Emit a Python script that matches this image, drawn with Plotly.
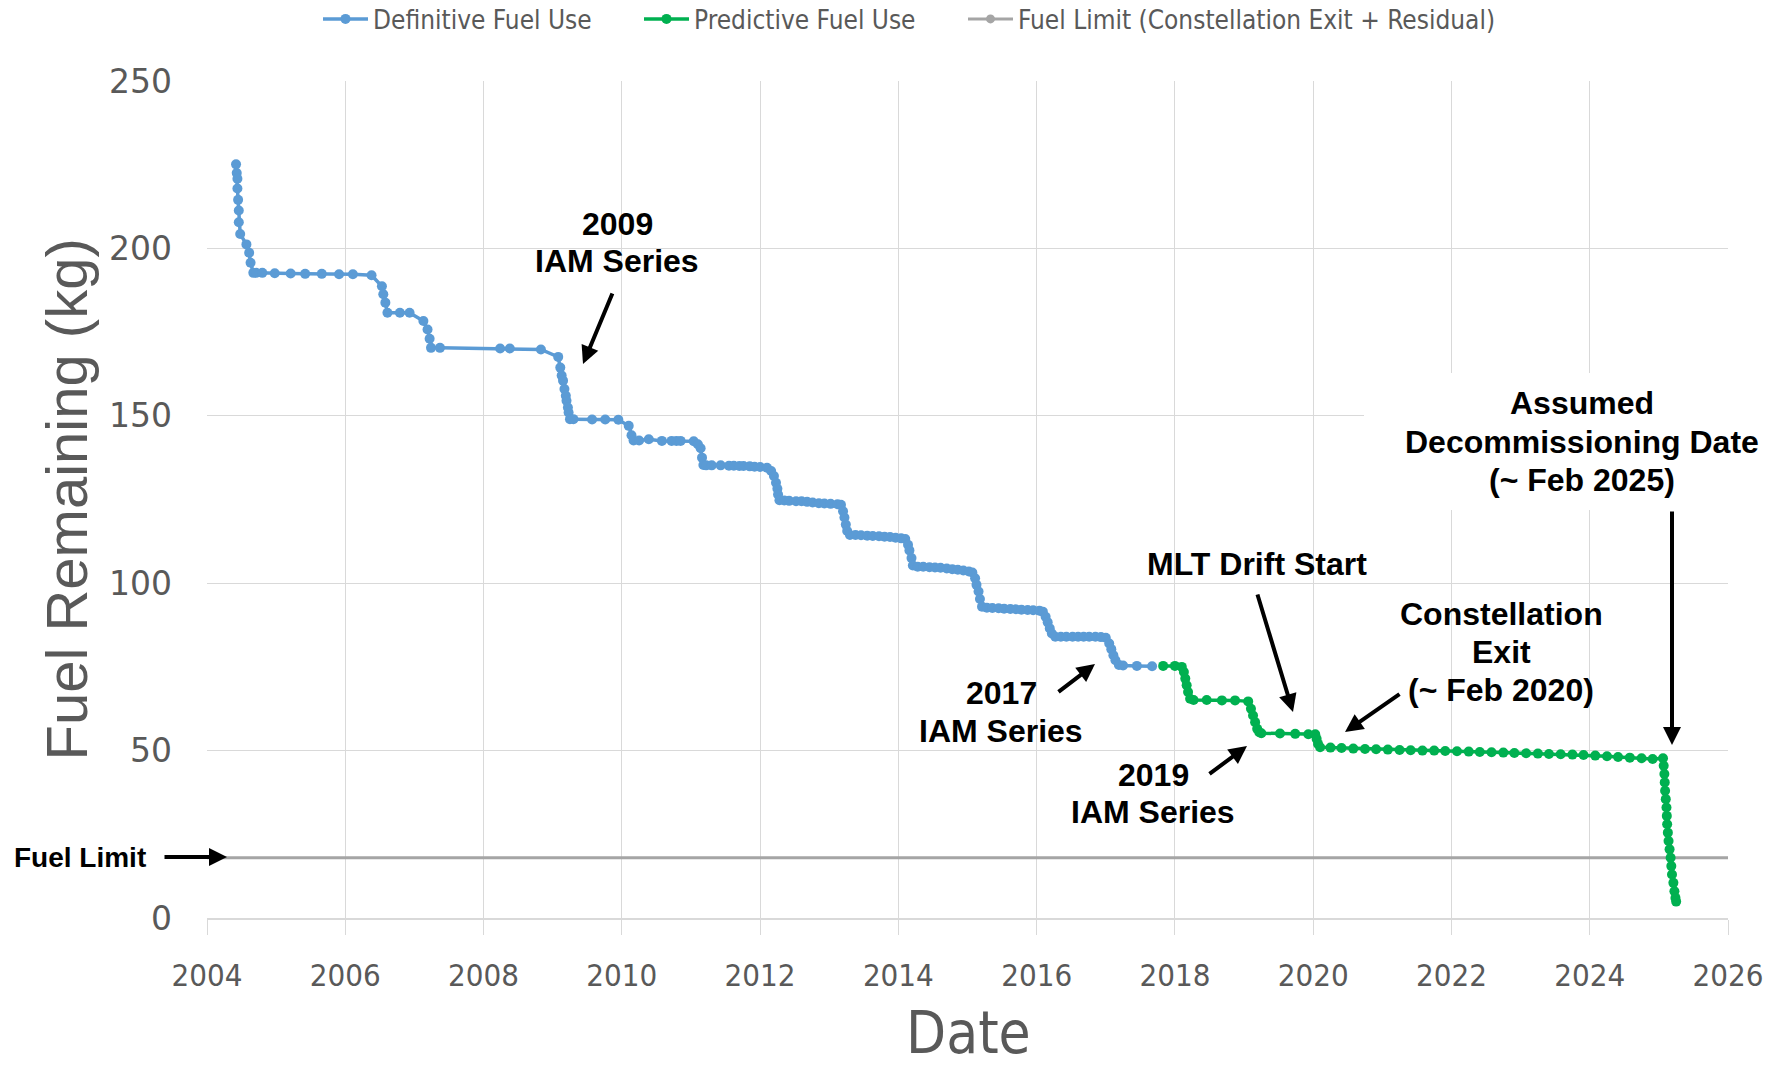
import plotly.graph_objects as go

# ---- data -------------------------------------------------------------
year_ticks = list(range(2004, 2027, 2))
fuel_ticks = [0, 50, 100, 150, 200, 250]

# definitive (flown) fuel history, decimal year vs kg remaining
def_year = [
    2004.42, 2004.43, 2004.44, 2004.44, 2004.45, 2004.46, 2004.46, 2004.48,
    2004.57, 2004.61, 2004.63, 2004.67,
    2004.71, 2004.80, 2004.98, 2005.21, 2005.42, 2005.66, 2005.91, 2006.11, 2006.38,
    2006.53, 2006.55, 2006.58, 2006.61,
    2006.79, 2006.93,
    2007.13, 2007.19, 2007.22, 2007.24,
    2007.37, 2008.24, 2008.38, 2008.83,
    2009.08, 2009.11, 2009.13, 2009.15, 2009.17, 2009.19, 2009.20, 2009.22, 2009.23, 2009.25,
    2009.30, 2009.57, 2009.76, 2009.95,
    2010.10, 2010.14, 2010.17,
    2010.25, 2010.39, 2010.58, 2010.72, 2010.79, 2010.85, 2011.04,
    2011.10, 2011.14, 2011.16, 2011.18,
    2011.22, 2011.30, 2011.43, 2011.55, 2011.62, 2011.70, 2011.76, 2011.85, 2011.92, 2012.00, 2012.10,
    2012.16, 2012.20, 2012.23, 2012.25, 2012.26, 2012.28,
    2012.35, 2012.42, 2012.52, 2012.60, 2012.68, 2012.76, 2012.85, 2012.93, 2013.02, 2013.12, 2013.17,
    2013.20, 2013.22, 2013.24, 2013.26, 2013.30,
    2013.38, 2013.46, 2013.55, 2013.63, 2013.72, 2013.80, 2013.88, 2013.96, 2014.04, 2014.10,
    2014.14, 2014.16, 2014.19, 2014.21,
    2014.28, 2014.36, 2014.45, 2014.53, 2014.61, 2014.70, 2014.78, 2014.86, 2014.94, 2015.02, 2015.07,
    2015.11, 2015.13, 2015.16, 2015.18, 2015.21,
    2015.28, 2015.36, 2015.45, 2015.53, 2015.62, 2015.70, 2015.78, 2015.87, 2015.95, 2016.04, 2016.09,
    2016.13, 2016.16, 2016.19, 2016.22, 2016.27,
    2016.35, 2016.43, 2016.52, 2016.60, 2016.68, 2016.76, 2016.85, 2016.93, 2017.00,
    2017.05, 2017.08, 2017.11, 2017.14, 2017.19,
    2017.25, 2017.45, 2017.67,
]
def_fuel = [
    225.1, 222.5, 220.8, 217.9, 214.5, 211.3, 207.8, 204.3,
    201.2, 198.7, 195.7, 192.7,
    192.7, 192.7, 192.6, 192.5, 192.4, 192.4, 192.3, 192.3, 192.0,
    188.7, 186.3, 183.8, 180.8,
    180.8, 180.8,
    178.3, 175.8, 173.0, 170.3,
    170.3, 170.1, 170.1, 169.8,
    167.6, 164.4, 162.0, 160.5, 158.0, 156.0, 154.5, 152.5, 151.0, 149.0,
    149.0, 148.9, 148.9, 148.8,
    147.0, 144.2, 142.6,
    142.6, 143.0, 142.5, 142.5, 142.5, 142.5, 142.4,
    141.5, 140.3, 137.5, 135.3,
    135.2, 135.2, 135.2, 135.1, 135.1, 135.0, 135.0, 134.9, 134.8, 134.7, 134.5,
    133.5, 132.0, 130.0, 128.2, 126.5, 124.8,
    124.7, 124.6, 124.5, 124.5, 124.3, 124.1, 123.9, 123.8, 123.7, 123.6, 123.4,
    121.5, 119.6, 117.5, 115.6, 114.4,
    114.4, 114.3, 114.2, 114.1, 114.0, 113.9, 113.8, 113.6, 113.4, 113.2,
    111.5, 109.8, 107.5, 105.3,
    104.9, 104.9, 104.8, 104.7, 104.6, 104.4, 104.2, 104.0, 103.8, 103.5, 103.2,
    101.5, 99.5, 97.5, 95.3, 93.0,
    92.7, 92.6, 92.5, 92.4, 92.3, 92.2, 92.1, 92.0, 91.9, 91.8, 91.5,
    90.0, 88.3, 86.5, 85.0, 84.0,
    84.0, 84.0, 84.0, 84.0, 84.0, 84.0, 84.0, 83.9, 83.7,
    82.0, 80.3, 78.5, 77.0, 75.6,
    75.4, 75.3, 75.2,
]

# predicted fuel use through end of mission
pred_year = [
    2017.83, 2018.00, 2018.10,
    2018.13, 2018.15, 2018.17, 2018.19, 2018.22,
    2018.27, 2018.46, 2018.68, 2018.87, 2019.06,
    2019.10, 2019.13, 2019.16, 2019.19, 2019.22,
    2019.25, 2019.52, 2019.74, 2019.93, 2020.03,
    2020.05, 2020.07,
    2020.10, 2020.25, 2020.41, 2020.58, 2020.75, 2020.91, 2021.08, 2021.25, 2021.41, 2021.58,
    2021.75, 2021.91, 2022.08, 2022.25, 2022.41, 2022.58, 2022.75, 2022.91, 2023.08, 2023.25,
    2023.41, 2023.58, 2023.75, 2023.91, 2024.08, 2024.25, 2024.41, 2024.58, 2024.75, 2024.91,
    2025.06,
    2025.07, 2025.08, 2025.085, 2025.09, 2025.10, 2025.11, 2025.115, 2025.12, 2025.13,
    2025.14, 2025.155, 2025.17, 2025.18, 2025.19, 2025.21, 2025.225, 2025.24, 2025.25,
]
pred_fuel = [
    75.3, 75.3, 75.0,
    73.5, 71.5, 69.5, 67.5, 65.5,
    65.1, 65.1, 65.0, 65.0, 64.7,
    62.5, 60.5, 58.5, 56.5, 55.5,
    55.2, 55.1, 55.0, 54.9, 54.9,
    53.5, 52.0,
    51.0, 50.9, 50.8, 50.6, 50.5, 50.4, 50.3, 50.2, 50.1, 50.0,
    50.0, 49.9, 49.8, 49.7, 49.6, 49.5, 49.4, 49.3, 49.2, 49.1,
    49.0, 48.9, 48.8, 48.7, 48.5, 48.3, 48.1, 47.9, 47.7, 47.5,
    47.7,
    45.5, 43.0, 40.5, 38.0, 35.5, 33.0, 30.5, 28.0, 25.5,
    23.0, 20.5, 18.0, 15.5, 13.0, 10.5, 8.0, 6.0, 4.9,
]

# constellation-exit + residual fuel limit
limit_year = [2004, 2026]
limit_fuel = [18, 18]

# ---- styling ------------------------------------------------------------
BLUE = "#5b9bd5"
GREEN = "#00b050"
GRAY = "#a5a5a5"
GRID = "#d9d9d9"
TXT = "#595959"
NARROW = "DejaVu Sans Condensed, Liberation Sans Narrow, sans-serif"
SANS = "Liberation Sans, Arial, sans-serif"

W, H = 1785, 1068
L, R, T, B = 207, 1728, 81, 918
X0, X1 = 2004, 2026
Y0, Y1 = 0, 250


def px_x(px):
    return X0 + (px - L) * (X1 - X0) / (R - L)


def px_y(py):
    return Y0 + (B - py) * (Y1 - Y0) / (B - T)


def paper_x(px):
    return (px - L) / (R - L)


def paper_y(py):
    return (B - py) / (B - T)


fig = go.Figure()

fig.add_trace(go.Scatter(
    x=limit_year, y=limit_fuel, mode="lines",
    line=dict(color=GRAY, width=3), showlegend=False, hoverinfo="skip",
))
fig.add_trace(go.Scatter(
    x=def_year, y=def_fuel, mode="lines+markers", name="Definitive Fuel Use",
    line=dict(color=BLUE, width=3.5), marker=dict(color=BLUE, size=10),
    legend="legend",
))
fig.add_trace(go.Scatter(
    x=pred_year, y=pred_fuel, mode="lines+markers", name="Predictive Fuel Use",
    line=dict(color=GREEN, width=3.5), marker=dict(color=GREEN, size=10),
    legend="legend2",
))
# legend entry for the limit line (line + dot glyph)
fig.add_trace(go.Scatter(
    x=[None], y=[None], mode="lines+markers",
    name="Fuel Limit (Constellation Exit + Residual)",
    line=dict(color=GRAY, width=3), marker=dict(color=GRAY, size=9),
    legend="legend3",
))

# white panel behind the decommissioning label
fig.add_shape(type="rect", xref="x", yref="y", layer="between",
              x0=px_x(1364), x1=px_x(1775), y0=px_y(510), y1=px_y(373),
              fillcolor="white", line=dict(width=0))


def note(lines, cx, cy, step=38, size=32, paper=False):
    for i, t in enumerate(lines):
        fig.add_annotation(
            x=paper_x(cx) if paper else px_x(cx),
            xref="paper" if paper else "x",
            y=px_y(cy + i * step), yref="y",
            text="<b>%s</b>" % t, showarrow=False,
            xanchor="center", yanchor="middle",
            font=dict(family=SANS, size=size, color="black"),
        )


def arrow(tail, head):
    fig.add_annotation(
        x=px_x(head[0]), y=px_y(head[1]), ax=px_x(tail[0]), ay=px_y(tail[1]),
        xref="x", yref="y", axref="x", ayref="y", text="",
        showarrow=True, arrowhead=2, arrowsize=0.9, arrowwidth=4,
        arrowcolor="black", standoff=0,
    )


note(["2009", "IAM Series"], 617, 224, step=37)
arrow((613, 292), (583, 364))
note(["2017", "IAM Series"], 1001, 693)
arrow((1057, 693), (1095, 664))
note(["2019", "IAM Series"], 1153, 775, step=37)
arrow((1208, 775), (1247, 746))
note(["MLT Drift Start"], 1257, 564)
arrow((1257, 593), (1293, 712))
note(["Constellation", "Exit", "(~ Feb 2020)"], 1501, 614)
arrow((1401, 693), (1345, 732))
note(["Assumed", "Decommissioning Date", "(~ Feb 2025)"], 1582, 403, step=38.5)
arrow((1672, 510), (1672, 745))
note(["Fuel Limit"], 80, 857, size=28, paper=True)
arrow((163, 857), (227, 857))

# axis titles
fig.add_annotation(
    x=paper_x(66), y=0.5, xref="paper", yref="paper", textangle=-90,
    text="Fuel Remaining (kg)", showarrow=False, xanchor="center", yanchor="middle",
    font=dict(family=SANS, size=58, color=TXT),
)
fig.add_annotation(
    x=paper_x(968), y=paper_y(1033), xref="paper", yref="paper",
    text="Date", showarrow=False, xanchor="center", yanchor="middle",
    font=dict(family=NARROW, size=58, color=TXT),
)

legend_style = dict(
    orientation="h", xref="container", yref="container",
    xanchor="left", y=1 - 19 / H, yanchor="middle",
    font=dict(family=NARROW, size=26, color=TXT),
    itemwidth=45, bgcolor="rgba(0,0,0,0)",
)

fig.update_layout(
    width=W, height=H,
    margin=dict(l=L, r=W - R, t=T, b=H - B, autoexpand=False),
    paper_bgcolor="white", plot_bgcolor="white",
    showlegend=True,
    legend=dict(legend_style, x=318 / W),
    legend2=dict(legend_style, x=639 / W),
    legend3=dict(legend_style, x=963 / W),
    xaxis=dict(
        range=[X0, X1], tickvals=year_ticks, ticktext=[str(v) for v in year_ticks],
        showgrid=True, gridcolor=GRID, gridwidth=1.3, zeroline=False,
        showline=True, linecolor=GRID, linewidth=2,
        ticks="outside", ticklen=15, tickwidth=1.3, tickcolor=GRID,
        ticklabelstandoff=14, automargin=False,
        tickfont=dict(family=NARROW, size=31, color=TXT),
    ),
    yaxis=dict(
        range=[Y0, Y1], tickvals=fuel_ticks,
        showgrid=True, gridcolor=GRID, gridwidth=1.3, zeroline=False,
        showline=False, ticks="", ticklabelstandoff=34, automargin=False,
        tickfont=dict(family="DejaVu Sans, Verdana, sans-serif", size=33, color=TXT),
    ),
)

fig.write_html("out.html")
